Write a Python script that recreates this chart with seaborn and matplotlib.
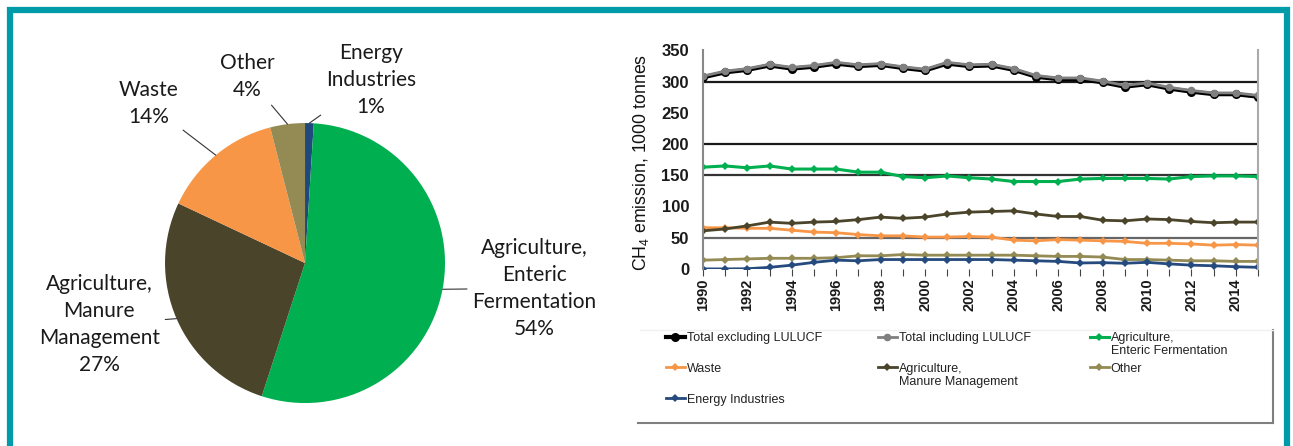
import numpy as np
import matplotlib
matplotlib.use('Agg')
import matplotlib.pyplot as plt
import seaborn as sns
from matplotlib.patches import Rectangle
from matplotlib.lines import Line2D
from matplotlib.text import Annotation

plt.rcParams['font.family'] = 'Liberation Sans'
plt.rcParams['mathtext.fontset'] = 'custom'
plt.rcParams['mathtext.rm'] = 'Liberation Sans'
plt.rcParams['mathtext.it'] = 'Liberation Sans'

# share of CH4 emissions by source (pie)
pie_labels = ['Energy\nIndustries', 'Agriculture,\nEnteric\nFermentation',
              'Agriculture,\nManure\nManagement', 'Waste', 'Other']
pie_shares = [1, 54, 27, 14, 4]
pie_colors = ['#1F497D', '#00B050', '#4A442A', '#F79646', '#948A54']

# CH4 emission time series, 1000 tonnes
years = list(range(1990, 2016))
total_excl = [307, 315, 319, 326, 321, 324, 329, 325, 327, 322, 318, 329, 325,
              326, 319, 308, 304, 304, 299, 292, 296, 289, 284, 280, 280, 276]
total_incl = [309, 317, 321, 328, 323, 326, 331, 327, 329, 324, 320, 331, 327,
              328, 321, 310, 306, 306, 301, 294, 298, 291, 286, 282, 282, 278]
enteric = [163, 165, 162, 165, 160, 160, 160, 155, 155, 148, 146, 149, 146,
           144, 140, 140, 140, 144, 145, 145, 145, 144, 148, 149, 149, 148]
manure = [61, 64, 69, 75, 73, 75, 76, 79, 83, 81, 83, 88, 91,
          92, 93, 88, 84, 84, 78, 77, 80, 79, 76, 74, 75, 75]
waste = [66, 66, 65, 65, 62, 59, 58, 55, 53, 53, 51, 51, 52,
         51, 46, 45, 47, 46, 45, 44, 41, 41, 40, 38, 39, 38]
other = [14, 15, 16, 17, 17, 17, 18, 21, 21, 23, 22, 22, 22,
         22, 22, 21, 20, 20, 19, 15, 15, 14, 13, 13, 12, 12]
energy = [0, 0, 0.3, 2.5, 6, 10.5, 14, 13, 15, 15, 15, 15, 15,
          15, 14, 13, 12, 9.5, 10, 9, 10.5, 8, 6, 5, 3.5, 2.5]

W, H = 1293, 446
fig = plt.figure(figsize=(W / 100, H / 100), dpi=100)

# ---- pie ----
ax1 = fig.add_axes([20 / W, 1 - 440 / H, 600 / W, 420 / H])
wedges, _ = ax1.pie(pie_shares, colors=pie_colors, startangle=90,
                    counterclock=False, wedgeprops=dict(linewidth=0))
ax1.set_aspect('auto')
ax1.set_xlim(-2.036, 2.25)
ax1.set_ylim(-1.264, 1.736)
ax1.axis('off')

label_pos = [(0.47, 1.31), (1.64, -0.18), (-1.47, -0.44), (-1.12, 1.14), (-0.41, 1.33)]
for w, lab, share, pos in zip(wedges, pie_labels, pie_shares, label_pos):
    ang = np.deg2rad((w.theta1 + w.theta2) / 2)
    ax1.annotate(f'{lab}\n{share}%', xy=(np.cos(ang), np.sin(ang)), xytext=pos,
                 ha='center', va='center', fontsize=15, family='Lato',
                 linespacing=1.43, color='#1a1a1a',
                 arrowprops=dict(arrowstyle='-', color='#333333', lw=0.8,
                                 shrinkA=2, shrinkB=0))

# ---- line chart ----
ax2 = fig.add_axes([703 / W, 1 - 268.9 / H, 555 / W, 218.4 / H])

for g, c in zip([50, 150, 200, 300], ['#666666', '#333333', '#1a1a1a', '#1a1a1a']):
    ax2.axhline(g, color=c, lw=1.6, zorder=0)

series = [
    ('Total excluding LULUCF', total_excl, '#000000', 3.0, 'o', 6.5),
    ('Total including LULUCF', total_incl, '#808080', 2.0, 'o', 5.5),
    ('Agriculture,', enteric, '#00B050', 2.2, 'D', 4.5),
    ('Waste', waste, '#F79646', 2.0, 'D', 4.5),
    ('Agriculture,', manure, '#4A442A', 2.0, 'D', 4.5),
    ('Other', other, '#948A54', 2.0, 'D', 4.5),
    ('Energy Industries', energy, '#254A7E', 2.0, 'D', 4.5),
]
handles = []
for name, vals, c, lw, m, ms in series:
    sns.lineplot(x=years, y=vals, ax=ax2, color=c, lw=lw, marker=m,
                 markersize=ms, markeredgewidth=0)
    handles.append(ax2.lines[-1])

ax2.set_xlim(1990, 2015)
ax2.set_ylim(0, 350)
ax2.set_yticks(range(0, 351, 50))
ax2.set_xticks(range(1990, 2015, 2))
ax2.set_xticks(years, minor=True)
ax2.tick_params(axis='y', length=0, pad=10, labelsize=12, labelcolor='#1a1a1a')
ax2.tick_params(axis='x', which='both', length=5, width=0.8, color='#444444',
                pad=2, labelsize=10.5, labelrotation=90, labelcolor='#1a1a1a')
for lbl in ax2.get_xticklabels() + ax2.get_yticklabels():
    lbl.set_fontweight('bold')
for s in ['top', 'bottom']:
    ax2.spines[s].set_visible(False)
ax2.spines['left'].set_color('#888888')
ax2.spines['left'].set_linewidth(1.5)
ax2.spines['right'].set_color('#aaaaaa')
ax2.spines['right'].set_linewidth(1.5)
ax2.set_xlabel('')
ax2.set_ylabel('CH$_4$ emission, 1000 tonnes', fontsize=12.8, color='#111111')
ax2.yaxis.set_label_coords(-0.094, 0.487)

# legend, one block per column so the rows line up
col_x = [666, 878, 1090]
col_items = [[0, 3, 6], [1, 4], [2, 5]]
second_line = {2: 'Enteric Fermentation', 4: 'Manure Management'}
for x, items in zip(col_x, col_items):
    leg = fig.legend(handles=[handles[i] for i in items],
                     labels=[series[i][0] for i in items],
                     loc='upper left', bbox_to_anchor=(x / W, 1 - 332 / H),
                     frameon=False, prop=dict(family='Liberation Sans', size=9),
                     labelcolor='#222222', handlelength=1.5, handletextpad=0.15,
                     labelspacing=1.5, borderpad=0, borderaxespad=0)
    for i, txt in zip(items, leg.get_texts()):
        if i in second_line:
            a = Annotation(second_line[i], xy=(0, 0), xycoords=txt, xytext=(0, -1),
                           textcoords='offset points', ha='left', va='top',
                           fontsize=9, family='Liberation Sans', color='#222222')
            a.set_zorder(10)
            fig.add_artist(a)

# chart panel edge and teal frame
fig.add_artist(Line2D([638 / W, 1273 / W], [1 - 422.5 / H] * 2, color='#7f7f7f',
                      lw=1.5, transform=fig.transFigure))
fig.add_artist(Line2D([1273 / W] * 2, [1 - 330 / H, 1 - 422.5 / H], color='#7f7f7f',
                      lw=1.5, transform=fig.transFigure))
fig.add_artist(Line2D([640 / W, 1273 / W], [1 - 330 / H] * 2, color='#f0f0f0',
                      lw=1, transform=fig.transFigure))
fig.add_artist(Rectangle((10 / W, -0.1), (1287 - 10) / W, 1.1 - 10 / H, fill=False,
                         edgecolor='#009BA8', lw=4.5, transform=fig.transFigure))

fig.savefig('out.png', dpi=100)
